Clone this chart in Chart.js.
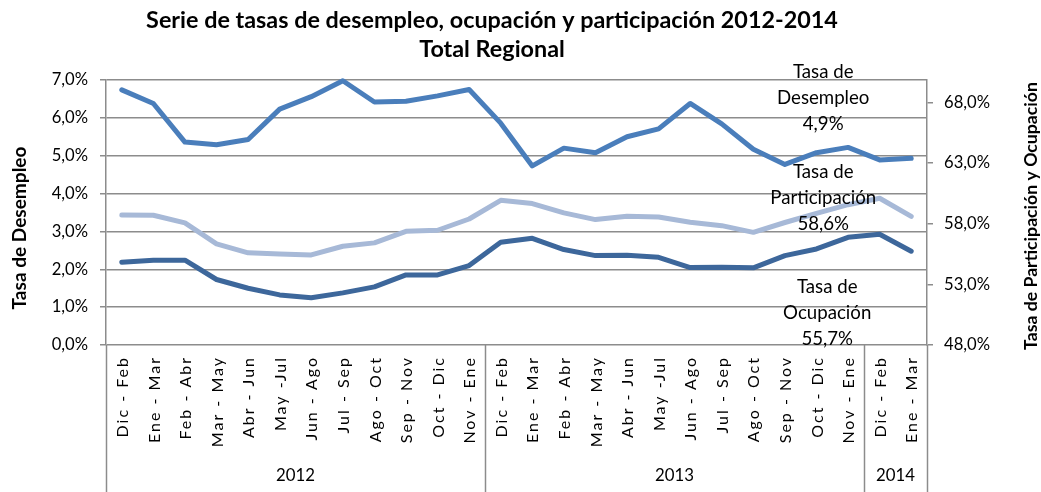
<!DOCTYPE html>
<html>
<head>
<meta charset="utf-8">
<script src="https://cdn.jsdelivr.net/npm/chart.js@4/dist/chart.umd.min.js"></script>
<style>
html,body{margin:0;padding:0;background:#fff;}
#wrap{width:1041px;height:492px;position:relative;}
</style>
</head>
<body>
<div id="wrap"><canvas id="c" width="1041" height="492"></canvas></div>
<script>
// ---- data ----
const categories = ["Dic - Feb","Ene - Mar","Feb - Abr","Mar - May","Abr - Jun","May -Jul","Jun - Ago","Jul - Sep","Ago - Oct","Sep - Nov","Oct - Dic","Nov - Ene",
                    "Dic - Feb","Ene - Mar","Feb - Abr","Mar - May","Abr - Jun","May -Jul","Jun - Ago","Jul - Sep","Ago - Oct","Sep - Nov","Oct - Dic","Nov - Ene",
                    "Dic - Feb","Ene - Mar"];
const yearLabels = ["2012","2013","2014"];
const yearSpans = [12,12,2];
const desempleo = [6.74,6.38,5.36,5.29,5.43,6.23,6.56,6.98,6.42,6.44,6.58,6.75,
                   5.86,4.73,5.20,5.08,5.50,5.71,6.38,5.84,5.17,4.77,5.08,5.22,4.89,4.93];
const participacion = [58.72,58.70,58.07,56.34,55.60,55.51,55.43,56.14,56.42,57.37,57.46,58.39,
                       59.93,59.66,58.89,58.34,58.61,58.56,58.12,57.84,57.29,58.10,58.85,59.57,60.10,58.60];
const ocupacion = [54.82,54.99,54.99,53.40,52.68,52.13,51.89,52.30,52.79,53.78,53.78,54.55,
                   56.47,56.80,55.87,55.37,55.40,55.23,54.38,54.41,54.36,55.37,55.92,56.88,57.13,55.73];
const leftTicks = [0,1,2,3,4,5,6,7];
const rightTicks = [48,53,58,63,68];
const titleLines = ["Serie de tasas de desempleo, ocupación y participación 2012-2014","Total Regional"];
const leftTitle = "Tasa de Desempleo";
const rightTitle = "Tasa de Participación y Ocupación";
const seriesNames = ["Tasa de Desempleo","Tasa de Participación","Tasa de Ocupación"];

const FONT = "Lato, 'Open Sans', sans-serif";
const fmt = v => v.toFixed(1).replace('.', ',') + '%';

// pick a font size so that a text has a given rendered width
const mctx = document.createElement('canvas').getContext('2d');
function fitSize(text, weight, target) {
  mctx.font = weight + " 100px " + FONT;
  return 100 * target / mctx.measureText(text).width;
}
const SZ = {
  title: fitSize(titleLines[0], 'bold', 692),
  leftTitle: fitSize(leftTitle, 'bold', 163),
  rightTitle: fitSize(rightTitle, 'bold', 268),
  tick: fitSize("68,0%", 'normal', 46),
  year: fitSize("2012", 'normal', 39),
  dlab: fitSize("Participación", 'normal', 106)
};

const textPlugin = {
  id: 'texts',
  afterDatasetsDraw(chart) {
    const ctx = chart.ctx;
    const ca = chart.chartArea;
    const xs = chart.scales.x;
    ctx.save();
    ctx.fillStyle = '#000';
    // title
    ctx.font = "bold " + SZ.title + "px " + FONT;
    ctx.textAlign = 'center';
    ctx.textBaseline = 'middle';
    ctx.fillText(titleLines[0], 492, 20);
    ctx.fillText(titleLines[1], 492, 49);
    // axis titles
    ctx.font = "bold " + SZ.leftTitle + "px " + FONT;
    ctx.save();
    ctx.translate(20, 228);
    ctx.rotate(-Math.PI/2);
    ctx.fillText(leftTitle, 0, 0);
    ctx.restore();
    ctx.font = "bold " + SZ.rightTitle + "px " + FONT;
    ctx.save();
    ctx.translate(1031, 216);
    ctx.rotate(-Math.PI/2);
    ctx.fillText(rightTitle, 0, 0);
    ctx.restore();
    // category labels
    ctx.font = "16px " + FONT;
    ctx.letterSpacing = '2px';
    ctx.textAlign = 'right';
    ctx.textBaseline = 'middle';
    categories.forEach((c, i) => {
      const x = xs.getPixelForValue(i);
      ctx.save();
      ctx.translate(x + 1, 356);
      ctx.rotate(-Math.PI/2);
      ctx.fillText(c, 0, 0);
      ctx.restore();
    });
    ctx.letterSpacing = '0px';
    // year group labels and dividers
    const w = (ca.right - ca.left) / categories.length;
    ctx.strokeStyle = '#8c8c8c';
    ctx.lineWidth = 1.5;
    let start = 0;
    const bounds = [0];
    yearSpans.forEach(s => { start += s; bounds.push(start); });
    bounds.forEach(b => {
      const x = Math.round(ca.left + b * w) + 0.5;
      ctx.beginPath();
      ctx.moveTo(x, ca.bottom);
      ctx.lineTo(x, 492);
      ctx.stroke();
    });
    ctx.font = SZ.year + "px " + FONT;
    ctx.textAlign = 'center';
    ctx.textBaseline = 'middle';
    yearLabels.forEach((y, k) => {
      const x = ca.left + (bounds[k] + bounds[k+1]) / 2 * w;
      ctx.fillText(y, x, 476);
    });
    // end-point data labels
    ctx.font = SZ.dlab + "px " + FONT;
    const last = categories.length - 1;
    const specs = [
      {ds: 0, dx: -88, dy: -60, name: seriesNames[0]},
      {ds: 1, dx: -88, dy: -18, name: seriesNames[1]},
      {ds: 2, dx: -84, dy: 62, name: seriesNames[2]},
    ];
    specs.forEach(s => {
      const meta = chart.getDatasetMeta(s.ds);
      const pt = meta.data[last];
      const val = chart.data.datasets[s.ds].data[last];
      const parts = s.name.split(' ');
      const lines = [parts.slice(0,2).join(' '), parts.slice(2).join(' '), fmt(val)];
      const cx = pt.x + s.dx, cy = pt.y + s.dy;
      lines.forEach((l, j) => ctx.fillText(l, cx, cy + (j - 1) * 26));
    });
    ctx.restore();
  }
};

new Chart(document.getElementById('c'), {
  type: 'line',
  data: {
    labels: categories,
    datasets: [
      {label: seriesNames[0], data: desempleo, yAxisID: 'y', borderColor: '#4a7ebb', borderWidth: 5},
      {label: seriesNames[1], data: participacion, yAxisID: 'y1', borderColor: '#a7b9d7', borderWidth: 5},
      {label: seriesNames[2], data: ocupacion, yAxisID: 'y1', borderColor: '#3d679b', borderWidth: 5},
    ].map(d => Object.assign(d, {pointRadius: 0, tension: 0, fill: false, clip: false,
        borderJoinStyle: 'round', borderCapStyle: 'round'}))
  },
  options: {
    responsive: false,
    animation: false,
    devicePixelRatio: 1,
    layout: {padding: {top: 80, left: 0, right: 0, bottom: 0}},
    plugins: {legend: {display: false}, title: {display: false}, tooltip: {enabled: false}},
    scales: {
      x: {
        type: 'category', offset: true,
        grid: {display: false, drawTicks: false},
        border: {display: false},
        ticks: {display: false},
        afterFit(s) { s.height = 147; }
      },
      y: {
        position: 'left', min: 0, max: 7,
        afterBuildTicks(s) { s.ticks = leftTicks.map(v => ({value: v})); },
        grid: {color: '#8c8c8c', lineWidth: 1.5, tickLength: 6},
        border: {display: true, color: '#8c8c8c', width: 1.5},
        ticks: {color: '#000', font: {family: FONT, size: SZ.tick}, padding: 12, callback: v => fmt(v)},
        afterFit(s) { s.width = 106; }
      },
      y1: {
        position: 'right', min: 48, max: 69.85,
        afterBuildTicks(s) { s.ticks = rightTicks.map(v => ({value: v})); },
        grid: {drawOnChartArea: false, color: '#8c8c8c', lineWidth: 1.5, tickLength: 6},
        border: {display: true, color: '#8c8c8c', width: 1.5},
        ticks: {color: '#000', font: {family: FONT, size: SZ.tick}, padding: 11, callback: v => fmt(v)},
        afterFit(s) { s.width = 114; }
      }
    }
  },
  plugins: [textPlugin]
});
</script>
</body>
</html>
